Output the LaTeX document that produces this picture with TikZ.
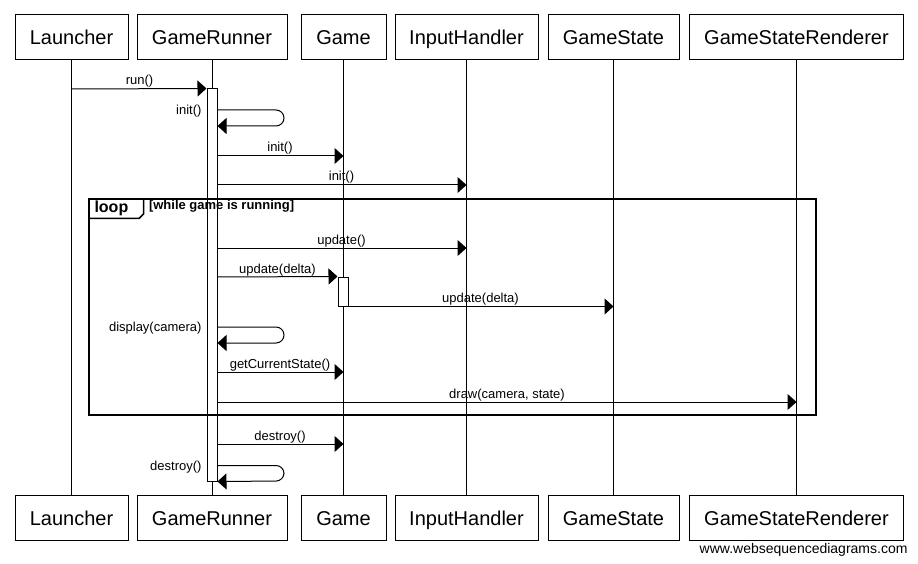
\documentclass[tikz,border=0pt]{standalone}
\usepackage{fontspec}
\setmainfont{Liberation Sans}
\usetikzlibrary{arrows.meta}
\begin{document}
\begin{tikzpicture}[x=1pt,y=-1pt,line width=1pt,
  part/.style={draw,minimum width=#1 pt,minimum height=45pt,inner sep=0pt,text height=15pt,text depth=0pt,font=\fontsize{20}{24}\selectfont},
  act/.style={draw,fill=white,minimum width=10pt,inner sep=0pt},
  msg/.style={-{Triangle[length=9pt,width=16pt]}},
  selfmsg/.style={msg,rounded corners=8pt},
  lbl/.style={font=\fontsize{13}{15}\selectfont,inner sep=0pt,anchor=base},
  slbl/.style={font=\fontsize{13}{15}\selectfont,inner sep=0pt,anchor=base east}]
\useasboundingbox (0,0) rectangle (918,564);
% participants
\node[part=113] (launT) at (71.5,37.5) {Launcher};
\node[part=150] (runT) at (212,37.5) {GameRunner};
\node[part=85] (gameT) at (343.5,37.5) {Game};
\node[part=143] (inT) at (466.5,37.5) {InputHandler};
\node[part=131] (stT) at (613.5,37.5) {GameState};
\node[part=214] (renT) at (796.5,37.5) {GameStateRenderer};
\node[part=113] (launB) at (71.5,517.75) {Launcher};
\node[part=150] (runB) at (212,517.75) {GameRunner};
\node[part=85] (gameB) at (343.5,517.75) {Game};
\node[part=143] (inB) at (466.5,517.75) {InputHandler};
\node[part=131] (stB) at (613.5,517.75) {GameState};
\node[part=214] (renB) at (796.5,517.75) {GameStateRenderer};
% lifelines
\draw (launT) -- (launB);
\draw (runT) -- (runB);
\draw (gameT) -- (gameB);
\draw (inT) -- (inB);
\draw (stT) -- (stB);
\draw (renT) -- (renB);
% activations
\node[act,minimum height=392pt] (actR) at (212,285) {};
\node[act,minimum height=29pt] (actG) at (343,291.5) {};
% loop frame
\draw[line width=2pt] (89,199) rectangle (815.5,415);
\draw[line width=1.5pt] (89,218.5) -- (139,218.5) -- (143.5,214) -- (143.5,199);
\node[font=\fontsize{16}{19}\selectfont\bfseries,inner sep=0pt,anchor=base west] (looplbl) at (94,212.5) {loop};
\node[font=\fontsize{13}{15}\selectfont\bfseries,inner sep=0pt,anchor=base west] (loopcond) at (148.5,210) {[while game is running]};
% messages
\draw[msg] (launT |- 0,89) -- (actR.north west);
\node[lbl] (m1) at (139.5,85) {run()};
\draw[selfmsg] (actR.east |- 0,110) -- (284,110) -- (284,126) -- (actR.east |- 0,126);
\node[slbl] (m2) at (202,115) {init()};
\draw[msg] (actR.east |- 0,156) -- (gameT |- 0,156);
\node[lbl] (m3) at (280,152) {init()};
\draw[msg] (actR.east |- 0,185) -- (inT |- 0,185);
\node[lbl] (m4) at (341.5,181) {init()};
\draw[msg] (actR.east |- 0,248) -- (inT |- 0,248);
\node[lbl] (m5) at (341.5,244) {update()};
\draw[msg] (actR.east |- 0,277) -- (actG.north west);
\node[lbl] (m6) at (277.5,273) {update(delta)};
\draw[msg] (actG.south east) -- (stT |- actG.south);
\node[lbl] (m7) at (480.5,302) {update(delta)};
\draw[selfmsg] (actR.east |- 0,327) -- (284,327) -- (284,343) -- (actR.east |- 0,343);
\node[slbl] (m8) at (202,331.5) {display(camera)};
\draw[msg] (actR.east |- 0,372) -- (gameT |- 0,372);
\node[lbl] (m9) at (280,368) {getCurrentState()};
\draw[msg] (actR.east |- 0,402) -- (renT |- 0,402);
\node[lbl] (m10) at (507,398) {draw(camera, state)};
\draw[msg] (actR.east |- 0,444) -- (gameT |- 0,444);
\node[lbl] (m11) at (280,440) {destroy()};
\draw[selfmsg] (actR.east |- 0,465.5) -- (284,465.5) -- (284,481) -- (actR.south east);
\node[slbl] (m12) at (202,470) {destroy()};
% watermark
\node[font=\fontsize{14}{17}\selectfont,inner sep=0pt,anchor=base east] (wm) at (908,553) {www.websequencediagrams.com};
\end{tikzpicture}
\end{document}
